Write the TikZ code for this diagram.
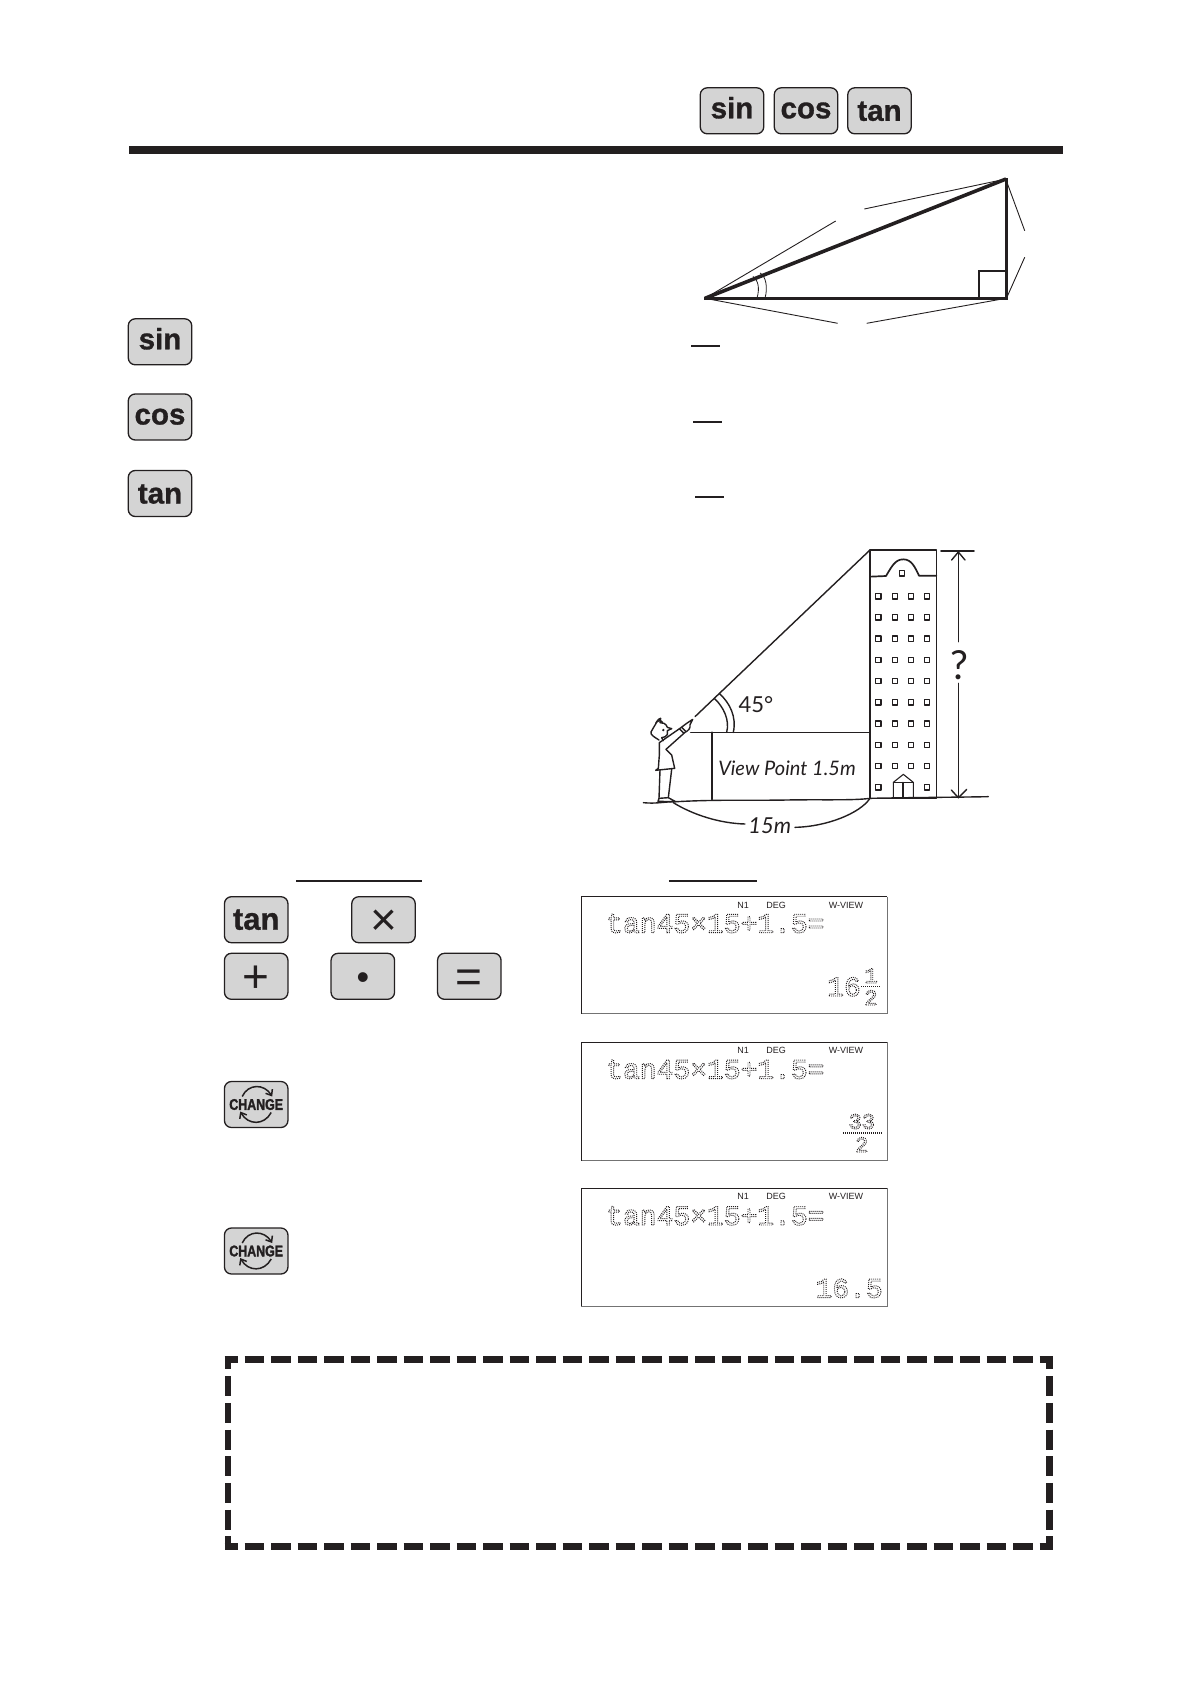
\documentclass[tikz,border=0pt]{standalone}
\usepackage{fontspec}
\setmainfont{Liberation Sans}
\newfontfamily\handfont{Lato}
\newfontfamily\lcdfont{Liberation Mono}
\usetikzlibrary{arrows.meta}
\definecolor{ink}{HTML}{231F20}
\definecolor{keygrey}{HTML}{D4D4D4}
\newcommand{\fs}[1]{\fontsize{#1}{#1}\selectfont}
\newcommand{\dotted}[1]{\special{pdf:code q 1 Tr 0.95 w [0.95 1.05] 0 d}#1\special{pdf:code Q}}
\newcommand{\heavy}[1]{\special{pdf:code q 2 Tr 0.3 w}#1\special{pdf:code Q}}
\tikzset{
  key/.style={draw=ink,fill=keygrey,line width=1.3pt,rounded corners=7pt,minimum width=63.5pt,minimum height=46pt,inner sep=0pt,text=ink},
  word/.style={key,font=\fs{29.5}\bfseries,text height=15pt,text depth=0pt},
  wordlow/.style={key,font=\fs{29.5}\bfseries,text height=20pt,text depth=0pt},
  sym/.style={key,font=\fs{46},text height=32pt,text depth=0pt},
  lcdmain/.style={font=\lcdfont\fs{28},anchor=base west,inner sep=0pt,text=ink},
  lcdsmall/.style={font=\fs{9},inner sep=0pt,text=ink},
  thinl/.style={line width=0.9pt,ink},
  hand/.style={line width=1.4pt,ink,line cap=round,line join=round},
  handtext/.style={font=\handfont\itshape,text=ink,inner sep=0pt},
  cycle arrow/.style={line width=1.5pt,ink,-{Straight Barb[length=5pt,width=8pt]}},
  dashside/.style={line width=6.6pt,ink}
}
\begin{document}
\begin{tikzpicture}[x=1pt,y=-1pt]
\useasboundingbox (0,0) rectangle (1191,1684);
% header
\node[word] (s1) at (732,110.8) {\heavy{sin}};
\node[word] (c1) at (806,110.8) {\heavy{cos}};
\node[wordlow] (t1) at (879.5,110.8) {\heavy{tan}};
\fill[ink] (129,146) rectangle (1063,154);
% triangle
\coordinate (A) at (705,298.3);
\coordinate (B) at (1006,179);
\coordinate (C) at (1006,298.3);
\draw[line width=3.6pt,ink] (A) -- (B);
\draw[line width=3pt,ink,line cap=rect] (B) -- (C) -- (A);
\draw[line width=2pt,ink] (978.7,298.3) -- (978.7,270.7) -- (1006,270.7);
\draw[thinl,line width=.8pt] (757,298) .. controls (760,288) and (758,280) .. (753,276.5);
\draw[thinl,line width=.8pt] (765,298) .. controls (768,288) and (766,276) .. (760,273);
\draw[thinl] (A) -- (835.7,221);
\draw[thinl] (864.3,209) -- (B);
\draw[thinl] (1006.7,181.7) -- (1024.7,230.7);
\draw[thinl] (1024.7,257.3) -- (1006.7,297.7);
\draw[thinl] (A) -- (837.7,323.3);
\draw[thinl] (866.7,323.3) -- (C);
% left keys
\node[word] (s2) at (160,341.8) {\heavy{sin}};
\node[word] (c2) at (160,417) {\heavy{cos}};
\node[wordlow] (t2) at (160,493.5) {\heavy{tan}};
% fraction bars
\draw[line width=2pt,ink] (691,345.7) -- (720,345.7);
\draw[line width=2pt,ink] (693,421.7) -- (722,421.7);
\draw[line width=2pt,ink] (695,496.7) -- (724,496.7);
% building scene, in 3x units
\begin{scope}[xshift=620pt,yshift=-530pt,x=.33333pt,y=-.33333pt]
  \coordinate (top) at (750,60);
  \coordinate (base) at (750,805);
  \draw[hand] (225,560) -- (top);
  \draw[hand] (212,607) -- (750,607);
  \draw[hand,line width=1.7pt] (275,607) -- (275,808);
  % building
  \draw[hand] (top) rectangle (949,805);
  \draw[hand,line width=1.7pt] (750,140) -- (798,138) .. controls (815,110) and (825,88) .. (850,88) .. controls (875,88) and (885,112) .. (897,137) -- (949,137);
  \draw[hand,line width=1.1pt] (838,122) rectangle (854,138);
  \foreach \y in {199,262,326,390,453,517,581,645,708} \foreach \x in {775,825,873,921}
    \draw[hand,line width=1.25pt] (\x-8,\y-8) rectangle (\x+8,\y+8);
  \foreach \x in {775,921} \draw[hand,line width=1.25pt] (\x-8,772-8) rectangle (\x+8,772+8);
  \draw[hand,line width=1.1pt] (820,805) -- (820,757) -- (850,733) -- (880,757) -- (880,805);
  \draw[hand,line width=1.1pt] (820,757) -- (880,757);
  \draw[hand,line width=1.1pt] (849,757) -- (849,805);
  % dimension
  \draw[hand,line width=1.9pt] (963,62) -- (1062,62);
  \draw[hand] (1015,65) -- (1015,335);
  \draw[hand] (1015,460) -- (1015,803);
  \draw[hand] (995,90) -- (1015,66) -- (1035,90);
  \draw[hand] (994,780) -- (1015,803) -- (1040,778);
  \node[font=\handfont\fs{40},text=ink,inner sep=0pt] (q) at (1017,405) {?};
  % ground
  \draw[hand] (70,818) .. controls (110,822) and (130,815) .. (170,815) .. controls (300,808) and (400,812) .. (500,810) .. controls (600,808) and (700,812) .. (base) .. controls (900,802) and (1000,802) .. (1105,800);
  % angle
  \draw[hand] (298,490) .. controls (330,520) and (350,560) .. (340,607);
  \draw[hand] (283,505) .. controls (310,530) and (330,570) .. (320,607);
  \node[handtext,font=\handfont\fs{22}] (ang) at (408,523) {45°};
  \node[handtext,font=\handfont\itshape\fs{20}] (vp) at (501,715) {View Point 1.5m};
  \node[handtext,font=\handfont\itshape\fs{22}] (dist) at (449,886) {15m};
  \draw[hand] (160,818) .. controls (220,855) and (300,880) .. (375,882);
  \draw[hand] (525,892) .. controls (620,890) and (720,850) .. (base);
  % person
  \begin{scope}[xshift=20pt,yshift=-170pt]
  \draw[hand] (57,120) .. controls (45,112) and (30,105) .. (33,96) .. controls (35,85) and (45,82) .. (47,72) .. controls (50,62) and (58,55) .. (62,55) -- (60,68) -- (72,70) .. controls (78,72) and (80,78) .. (82,82) -- (95,86) -- (82,92) .. controls (84,100) and (82,108) .. (76,110) -- (65,113) -- (70,122);
  \draw[hand] (48,68) .. controls (55,62) and (62,58) .. (68,68);
  \fill[ink] (70,90) circle (4);
  \draw[hand] (58,128) -- (120,85) -- (140,70) -- (158,58) -- (150,74) .. controls (152,85) and (145,92) .. (135,97) -- (78,148);
  \draw[hand] (118,86) -- (130,98);
  \draw[hand] (125,82) -- (137,94);
  \draw[hand] (58,128) -- (58,165) -- (55,205) -- (47,211) -- (104,205) -- (95,165) -- (78,148);
  \draw[hand] (60,210) -- (57,295) -- (54,304) -- (107,305) -- (85,293) -- (95,208);
  \draw[hand] (57,295) -- (85,293);
  \end{scope}
\end{scope}
% keys row
\node[wordlow,font=\fs{31}\bfseries] (t3) at (256.2,919.7) {\heavy{tan}};
\node[sym] (times) at (383.5,919.7) {×};
\node[sym] (plus) at (256.2,976.3) {+};
\node[sym,font=\fs{36},text height=27pt] (dot) at (362.8,976.3) {•};
\node[sym] (eq) at (469.3,976.3) {=};
\draw[line width=1.2pt,ink] (296,881) -- (421.8,881);
\draw[line width=1.2pt,ink] (668.8,881) -- (757,881);
% change keys
\foreach \n/\yy in {ch1/1104.5,ch2/1251} {
  \node[key] (\n) at (256.2,\yy) {\fs{15.5}\bfseries\scalebox{.8}[1]{\heavy{CHANGE}}};
  \begin{scope}[shift={(\n.center)}]
    \draw[cycle arrow] (-14,-8) .. controls (-8,-21) and (8,-21) .. (16,-8);
    \draw[cycle arrow] (15,8) .. controls (8,21) and (-8,21) .. (-16,7);
  \end{scope}
}
% LCD panels
\foreach \n/\t/\b in {l1/896.6/1013.7,l2/1042.4/1160.6,l3/1188/1306.2} {
  \coordinate (\n nw) at (581,\t);
  \coordinate (\n ne) at (887.3,\t);
  \coordinate (\n sw) at (581,\b);
  \coordinate (\n se) at (887.3,\b);
  \draw[line width=1pt,black!55] (\n ne) -- (\n se) -- (\n sw);
  \draw[line width=.9pt,ink] (\n sw) -- (\n nw) -- (\n ne);
}
\foreach \n/\by/\iy in {1/932.7/905,2/1078.6/1050.7,3/1225/1196.7} {
  \node[lcdmain] (m\n) at (606,\by) {\dotted{tan45×15+1.5=}};
  \node[lcdsmall] (na\n) at (743,\iy) {N1};
  \node[lcdsmall] (nb\n) at (776,\iy) {DEG};
  \node[lcdsmall] (nc\n) at (846,\iy) {W-VIEW};
}
\node[lcdmain] (r1a) at (827,996) {\dotted{16}};
\node[lcdmain,font=\lcdfont\fs{22},anchor=base] (r1b) at (871,983) {\dotted{1}};
\node[lcdmain,font=\lcdfont\fs{22},anchor=base] (r1c) at (871,1005) {\dotted{2}};
\draw[line width=1.2pt,ink,dash pattern=on 1pt off 1pt] (861,986.7) -- (880.7,986.7);
\node[lcdmain,font=\lcdfont\fs{22},anchor=base] (r2a) at (861.8,1128.8) {\dotted{33}};
\draw[line width=1.2pt,ink,dash pattern=on 1pt off 1pt] (842.8,1133) -- (880.9,1133);
\node[lcdmain,font=\lcdfont\fs{22},anchor=base] (r2b) at (861.8,1152) {\dotted{2}};
\node[lcdmain,anchor=base east] (r3) at (883,1297.6) {\dotted{16.5}};
% dashed frame
\coordinate (nw) at (228,1359.3);
\coordinate (ne) at (1049.5,1359.3);
\coordinate (sw) at (228,1546.4);
\coordinate (se) at (1049.5,1546.4);
\draw[dashside,dash pattern=on 19.9pt off 6.6pt,dash phase=6.7pt] ([xshift=-3.3pt]nw) -- ([xshift=3.3pt]ne);
\draw[dashside,dash pattern=on 19.9pt off 6.6pt,dash phase=6.7pt] ([xshift=-3.3pt]sw) -- ([xshift=3.3pt]se);
\draw[dashside,dash pattern=on 20pt off 6.73pt,dash phase=6.7pt] ([yshift=3.3pt]nw) -- ([yshift=-3.3pt]sw);
\draw[dashside,dash pattern=on 20pt off 6.73pt,dash phase=6.7pt] ([yshift=3.3pt]ne) -- ([yshift=-3.3pt]se);
\end{tikzpicture}
\end{document}
